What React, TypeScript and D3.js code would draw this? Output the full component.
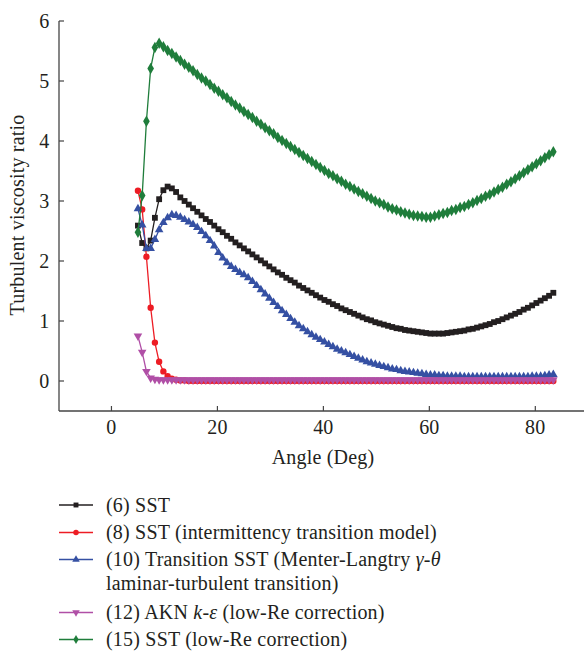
import React from "react";
import * as d3 from "d3";

const angles = [5.0, 5.8, 6.6, 7.4, 8.2, 9.0, 9.8, 10.6, 11.4, 12.2, 13.0, 13.8, 14.6, 15.4, 16.2, 17.0, 17.8, 18.6, 19.4, 20.2, 21.0, 21.8, 22.6, 23.4, 24.2, 25.0, 25.8, 26.6, 27.4, 28.2, 29.0, 29.8, 30.6, 31.4, 32.2, 33.0, 33.8, 34.6, 35.4, 36.2, 37.0, 37.8, 38.6, 39.4, 40.2, 41.0, 41.8, 42.6, 43.4, 44.2, 45.0, 45.8, 46.6, 47.4, 48.2, 49.0, 49.8, 50.6, 51.4, 52.2, 53.0, 53.8, 54.6, 55.4, 56.2, 57.0, 57.8, 58.6, 59.4, 60.2, 61.0, 61.8, 62.6, 63.4, 64.2, 65.0, 65.8, 66.6, 67.4, 68.2, 69.0, 69.8, 70.6, 71.4, 72.2, 73.0, 73.8, 74.6, 75.4, 76.2, 77.0, 77.8, 78.6, 79.4, 80.2, 81.0, 81.8, 82.6, 83.4];

const sst6 = [2.59, 2.30, 2.21, 2.34, 2.72, 3.03, 3.18, 3.24, 3.21, 3.15, 3.06, 3.00, 2.94, 2.88, 2.82, 2.76, 2.70, 2.65, 2.59, 2.53, 2.48, 2.42, 2.37, 2.31, 2.26, 2.21, 2.16, 2.11, 2.06, 2.01, 1.96, 1.91, 1.86, 1.81, 1.77, 1.72, 1.68, 1.64, 1.59, 1.55, 1.51, 1.47, 1.43, 1.39, 1.35, 1.32, 1.28, 1.25, 1.21, 1.18, 1.15, 1.12, 1.09, 1.06, 1.03, 1.01, 0.98, 0.96, 0.94, 0.92, 0.90, 0.88, 0.87, 0.85, 0.84, 0.83, 0.82, 0.81, 0.80, 0.79, 0.79, 0.79, 0.79, 0.80, 0.81, 0.82, 0.83, 0.84, 0.86, 0.87, 0.89, 0.91, 0.93, 0.95, 0.98, 1.00, 1.03, 1.06, 1.09, 1.12, 1.15, 1.19, 1.22, 1.26, 1.30, 1.34, 1.38, 1.42, 1.47];

const sst8 = [3.17, 2.86, 2.07, 1.22, 0.64, 0.32, 0.16, 0.08, 0.04, 0.02, 0.01, 0.01, 0.00, 0.00, 0.00, 0.00, 0.00, 0.00, 0.00, 0.00, 0.00, 0.00, 0.00, 0.00, 0.00, 0.00, 0.00, 0.00, 0.00, 0.00, 0.00, 0.00, 0.00, 0.00, 0.00, 0.00, 0.00, 0.00, 0.00, 0.00, 0.00, 0.00, 0.00, 0.00, 0.00, 0.00, 0.00, 0.00, 0.00, 0.00, 0.00, 0.00, 0.00, 0.00, 0.00, 0.00, 0.00, 0.00, 0.00, 0.00, 0.00, 0.00, 0.00, 0.00, 0.00, 0.00, 0.00, 0.00, 0.00, 0.00, 0.00, 0.00, 0.00, 0.00, 0.00, 0.00, 0.00, 0.00, 0.00, 0.00, 0.00, 0.00, 0.00, 0.00, 0.00, 0.00, 0.00, 0.00, 0.00, 0.00, 0.00, 0.00, 0.00, 0.00, 0.00, 0.00, 0.00, 0.00, 0.00];

const trans10 = [2.87, 2.60, 2.21, 2.21, 2.36, 2.52, 2.64, 2.72, 2.77, 2.76, 2.73, 2.69, 2.65, 2.61, 2.56, 2.49, 2.42, 2.34, 2.25, 2.14, 2.05, 1.97, 1.91, 1.86, 1.81, 1.77, 1.72, 1.66, 1.59, 1.52, 1.45, 1.38, 1.31, 1.24, 1.17, 1.11, 1.04, 0.98, 0.92, 0.87, 0.82, 0.77, 0.73, 0.69, 0.65, 0.61, 0.57, 0.53, 0.50, 0.47, 0.44, 0.41, 0.38, 0.35, 0.32, 0.30, 0.28, 0.26, 0.24, 0.22, 0.20, 0.19, 0.17, 0.16, 0.15, 0.14, 0.13, 0.12, 0.11, 0.10, 0.10, 0.09, 0.09, 0.08, 0.08, 0.08, 0.08, 0.07, 0.07, 0.07, 0.07, 0.07, 0.07, 0.07, 0.07, 0.07, 0.07, 0.07, 0.07, 0.07, 0.07, 0.07, 0.07, 0.08, 0.08, 0.08, 0.09, 0.10, 0.11];

const akn12 = [0.75, 0.48, 0.16, 0.05, 0.03, 0.02, 0.02, 0.02, 0.02, 0.02, 0.02, 0.02, 0.02, 0.02, 0.02, 0.02, 0.02, 0.02, 0.02, 0.02, 0.02, 0.02, 0.02, 0.02, 0.02, 0.02, 0.02, 0.02, 0.02, 0.02, 0.02, 0.02, 0.02, 0.02, 0.02, 0.02, 0.02, 0.02, 0.02, 0.02, 0.02, 0.02, 0.02, 0.02, 0.02, 0.02, 0.02, 0.02, 0.02, 0.02, 0.02, 0.02, 0.02, 0.02, 0.02, 0.02, 0.02, 0.02, 0.02, 0.02, 0.02, 0.02, 0.02, 0.02, 0.02, 0.02, 0.02, 0.02, 0.02, 0.02, 0.02, 0.02, 0.02, 0.02, 0.02, 0.02, 0.02, 0.02, 0.02, 0.02, 0.02, 0.02, 0.02, 0.02, 0.02, 0.02, 0.02, 0.02, 0.02, 0.02, 0.02, 0.02, 0.02, 0.02, 0.02, 0.02, 0.02, 0.02, 0.02];

const sst15 = [2.48, 3.09, 4.33, 5.21, 5.56, 5.63, 5.57, 5.51, 5.46, 5.40, 5.34, 5.28, 5.23, 5.17, 5.11, 5.05, 5.00, 4.94, 4.88, 4.83, 4.77, 4.72, 4.66, 4.60, 4.55, 4.49, 4.44, 4.39, 4.33, 4.28, 4.22, 4.17, 4.12, 4.06, 4.01, 3.96, 3.91, 3.86, 3.81, 3.76, 3.71, 3.66, 3.61, 3.56, 3.51, 3.46, 3.42, 3.37, 3.33, 3.28, 3.24, 3.20, 3.16, 3.12, 3.08, 3.04, 3.00, 2.97, 2.94, 2.90, 2.87, 2.85, 2.82, 2.80, 2.78, 2.76, 2.75, 2.74, 2.73, 2.73, 2.75, 2.77, 2.79, 2.81, 2.84, 2.86, 2.89, 2.91, 2.94, 2.97, 3.01, 3.04, 3.08, 3.11, 3.15, 3.19, 3.23, 3.28, 3.32, 3.37, 3.42, 3.47, 3.52, 3.57, 3.62, 3.67, 3.72, 3.77, 3.82];

const xTicks = [0, 20, 40, 60, 80];
const yTicks = [0, 1, 2, 3, 4, 5, 6];

const FONT = "Liberation Serif, DejaVu Serif, serif";
const INK = "#231f20";

type Spec = { key: string; values: number[]; color: string; symbol: d3.SymbolType; size: number; rotate: number };

const specs: Spec[] = [
  { key: "sst6", values: sst6, color: "#231f20", symbol: d3.symbolSquare, size: 34, rotate: 0 },
  { key: "sst8", values: sst8, color: "#ed1c24", symbol: d3.symbolCircle, size: 32, rotate: 0 },
  { key: "trans10", values: trans10, color: "#3550a3", symbol: d3.symbolTriangle, size: 32, rotate: 0 },
  { key: "akn12", values: akn12, color: "#b04fa6", symbol: d3.symbolTriangle, size: 32, rotate: 180 },
  { key: "sst15", values: sst15, color: "#1f7d3b", symbol: d3.symbolDiamond, size: 38, rotate: 0 },
];

export default function App() {
  const W = 584;
  const H = 652;
  const x = d3.scaleLinear().domain([-9.9, 89]).range([59, 583]);
  const y = d3.scaleLinear().domain([-0.5, 6]).range([411, 21]);
  const line = d3.line<[number, number]>().x((d) => x(d[0])).y((d) => y(d[1]));

  const legendRows = [
    { idx: 0, y: 505 },
    { idx: 1, y: 532.5 },
    { idx: 2, y: 559.5 },
    { idx: 3, y: 612.5 },
    { idx: 4, y: 639.5 },
  ];

  const txt = { fontFamily: FONT, fontSize: "20px", letterSpacing: "0.2px", fill: INK } as React.CSSProperties;

  return (
    <svg width={W} height={H} style={{ position: "absolute", left: 0, top: 0, background: "#fff" }}>
      <rect x={0} y={0} width={W} height={H} fill="#fff" />
      <line x1={59} x2={59} y1={21} y2={411} stroke="#444" strokeWidth={1.3} />
      <line x1={59} x2={584} y1={411} y2={411} stroke="#444" strokeWidth={1.3} />
      {yTicks.map((t) => (
        <g key={"y" + t}>
          <line x1={59} x2={64} y1={y(t)} y2={y(t)} stroke="#444" strokeWidth={1.2} />
          <text x={49.5} y={y(t) + 6.5} textAnchor="end" style={txt}>
            {t}
          </text>
        </g>
      ))}
      {xTicks.map((t) => (
        <g key={"x" + t}>
          <line x1={x(t)} x2={x(t)} y1={411} y2={406} stroke="#444" strokeWidth={1.2} />
          <text x={x(t)} y={434} textAnchor="middle" style={txt}>
            {t}
          </text>
        </g>
      ))}
      <text x={323} y={464} textAnchor="middle" style={txt}>
        Angle (Deg)
      </text>
      <text transform={`translate(24,${215}) rotate(-90)`} textAnchor="middle" style={txt}>
        Turbulent viscosity ratio
      </text>

      {specs.map((s) => {
        const pts: [number, number][] = angles.map((a, i) => [a, s.values[i]]);
        const sym = d3.symbol().type(s.symbol).size(s.size)();
        return (
          <g key={s.key}>
            <path d={line(pts) || ""} fill="none" stroke={s.color} strokeWidth={1.3} />
            {pts.map((p, i) => (
              <path
                key={i}
                d={sym || ""}
                transform={`translate(${x(p[0])},${y(p[1])}) rotate(${s.rotate})`}
                fill={s.color}
              />
            ))}
          </g>
        );
      })}

      {legendRows.map((r) => {
        const s = specs[r.idx];
        const sym = d3.symbol().type(s.symbol).size(24)();
        return (
          <g key={"lg" + r.idx}>
            <line x1={59} x2={93} y1={r.y} y2={r.y} stroke={s.color} strokeWidth={1.3} />
            <path d={sym || ""} transform={`translate(76,${r.y}) rotate(${s.rotate})`} fill={s.color} />
          </g>
        );
      })}
      <g>
        <text x={106} y={511.5} style={txt}>(6) SST</text>
        <text x={106} y={539} style={txt}>(8) SST (intermittency transition model)</text>
        <text x={106} y={566} style={txt}>
          (10) Transition SST (Menter-Langtry <tspan fontStyle="italic">γ</tspan>-<tspan fontStyle="italic">θ</tspan>
        </text>
        <text x={106} y={589.5} style={txt}>laminar-turbulent transition)</text>
        <text x={106} y={619} style={txt}>
          (12) AKN <tspan fontStyle="italic">k</tspan>-<tspan fontStyle="italic">ε</tspan> (low-Re correction)
        </text>
        <text x={106} y={646} style={txt}>(15) SST (low-Re correction)</text>
      </g>
    </svg>
  );
}
